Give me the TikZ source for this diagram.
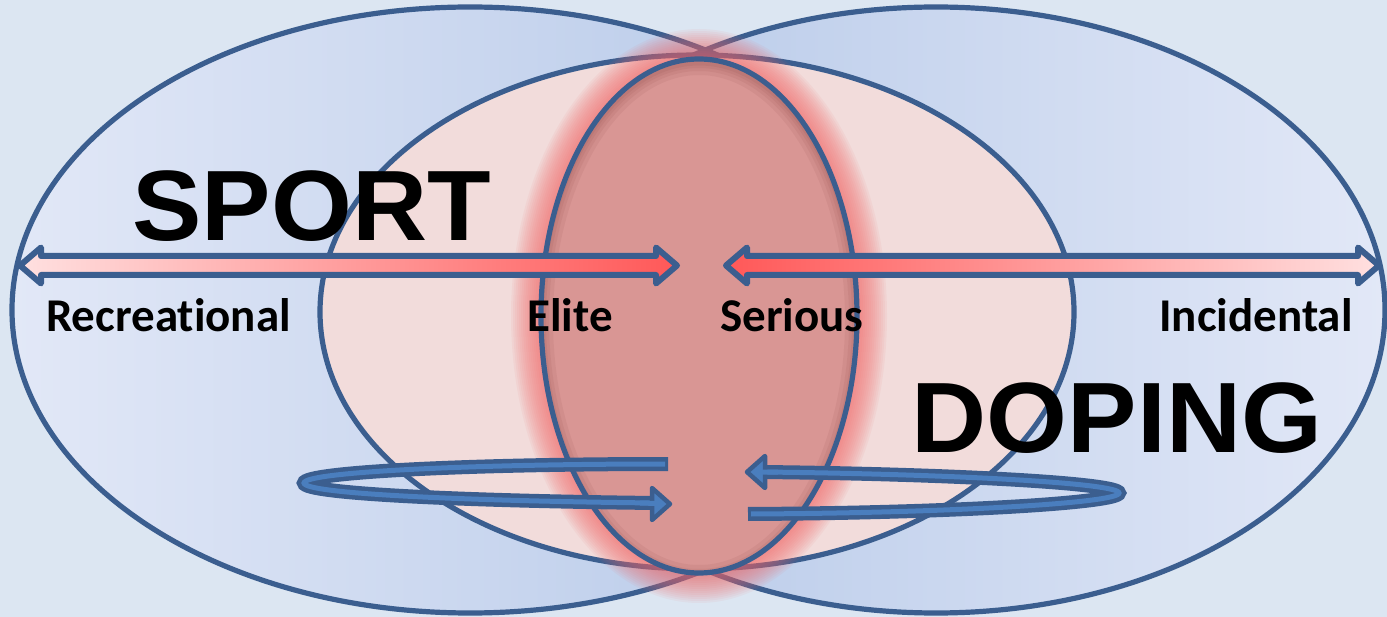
\documentclass[tikz,border=0pt]{standalone}
\usepackage{fontspec}
\setmainfont{Liberation Sans}
\newfontfamily\calib{Carlito}[Ligatures=NoCommon]
\definecolor{bg}{RGB}{220,230,242}
\definecolor{edge}{RGB}{59,94,143}
\definecolor{bluelight}{RGB}{226,232,247}
\definecolor{bluedark}{RGB}{178,198,231}
\definecolor{pinkfill}{RGB}{242,220,219}
\definecolor{rose}{RGB}{217,150,148}
\definecolor{glow}{RGB}{240,105,105}
\definecolor{arrlight}{RGB}{255,224,224}
\definecolor{arrred}{RGB}{255,88,88}
\definecolor{spfill}{RGB}{74,126,190}
\tikzset{
  outline/.style={draw=edge, line width=5.2pt},
  dblarrow/.style={draw=edge, line width=6pt, line join=round},
  bigword/.style={anchor=base, inner sep=0pt, font=\fontsize{100}{100}\selectfont\bfseries},
  lab/.style={anchor=base, inner sep=0pt, font=\calib\bfseries\fontsize{47}{47}\selectfont},
  bandout/.style={draw=edge, line width=14pt, line cap=butt},
  bandin/.style={draw=spfill, line width=5pt, line cap=butt},
  headstyle/.style={fill=spfill, draw=edge, line width=4.5pt, line join=round}
}
\begin{document}
\begin{tikzpicture}[x=1pt,y=-1pt]
\fill[bg] (0,0) rectangle (1387,617);
\useasboundingbox (0,0) rectangle (1387,617);

% big blue ellipses
\shade[left color=bluelight,right color=bluedark] (470,310) ellipse [x radius=458pt, y radius=303pt];
\shade[left color=bluedark,right color=bluelight] (936,310) ellipse [x radius=449pt, y radius=303pt];
\draw[outline] (470,310) ellipse [x radius=458pt, y radius=303pt];
\draw[outline] (936,310) ellipse [x radius=449pt, y radius=303pt];

% pink ellipse
\filldraw[fill=pinkfill, outline] (697,312) ellipse [x radius=377pt, y radius=257pt];

% glow
\foreach \i in {1,...,15}
  \fill[glow, opacity=0.07] (699,316) ellipse [x radius={(158+2*\i)*1pt}, y radius={(257+2*\i)*1pt}];

% central ellipse
\fill[rose] (699,316) ellipse [x radius=158pt, y radius=257pt];
\begin{scope}
  \clip (699,316) ellipse [x radius=158pt, y radius=257pt];
  \foreach \w in {24,16,10,5}
    \draw[black!70!red, opacity=0.05, line width=\w pt] (699,320) ellipse [x radius=158pt, y radius=257pt];
\end{scope}
\draw[outline] (699,316) ellipse [x radius=158pt, y radius=257pt];

% double arrows
\shade[left color=arrlight, right color=arrred] (20,265.5) -- (41,247.5) -- (41,256) -- (656,256) -- (656,247.5) -- (677,265.5) -- (656,283.5) -- (656,275) -- (41,275) -- (41,283.5) -- cycle;
\draw[dblarrow] (20,265.5) -- (41,247.5) -- (41,256) -- (656,256) -- (656,247.5) -- (677,265.5) -- (656,283.5) -- (656,275) -- (41,275) -- (41,283.5) -- cycle;
\shade[left color=arrred, right color=arrlight] (726,265.5) -- (747,247.5) -- (747,256) -- (1358,256) -- (1358,247.5) -- (1379,265.5) -- (1358,283.5) -- (1358,275) -- (747,275) -- (747,283.5) -- cycle;
\draw[dblarrow] (726,265.5) -- (747,247.5) -- (747,256) -- (1358,256) -- (1358,247.5) -- (1379,265.5) -- (1358,283.5) -- (1358,275) -- (747,275) -- (747,283.5) -- cycle;

% texts
\node[bigword] (sport) at (311.5,241) {\scalebox{1.04}[1]{SPORT}};
\node[bigword] (doping) at (1117,453) {\scalebox{1.04}[1]{DOPING}};
\node[lab] (rec) at (168.5,332) {Recreational};
\node[lab] (elite) at (570,332) {Elite};
\node[lab] (ser) at (792,332) {Serious};
\node[lab] (inc) at (1256,332) {Incidental};

% left spiral arrow
\draw[bandout] (668,464) .. controls (470,464) and (304,472) .. (304,483) .. controls (304,494) and (470,501) .. (656,503);
\draw[bandin] (665,464) .. controls (470,464) and (304,472) .. (304,483) .. controls (304,494) and (470,501) .. (656,503);
\filldraw[headstyle] (652,488) -- (670,504) -- (652,520) -- cycle;
\draw[bandin] (640,503) -- (657,503.5);

% right spiral arrow
\draw[bandout] (748,514) .. controls (950,513) and (1119,503) .. (1119,493) .. controls (1119,483) and (950,474) .. (762,472);
\draw[bandin] (751,514) .. controls (950,513) and (1119,503) .. (1119,493) .. controls (1119,483) and (950,474) .. (762,472);
\filldraw[headstyle] (765,456) -- (747,472) -- (765,488) -- cycle;
\draw[bandin] (761,472) -- (778,472.2);
\end{tikzpicture}
\end{document}
